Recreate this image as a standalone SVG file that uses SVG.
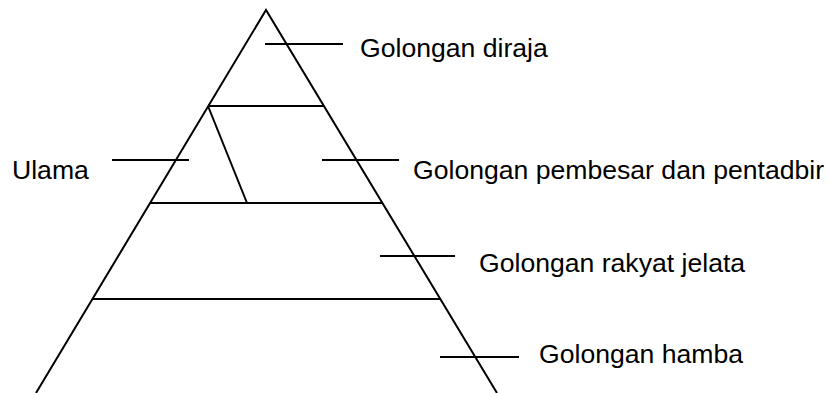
<svg xmlns="http://www.w3.org/2000/svg" width="830" height="393" viewBox="0 0 830 393">
<style>
.l{stroke:#000;stroke-width:2;fill:none;stroke-linecap:butt}
.t{font-family:"Liberation Sans",Arial,sans-serif;font-size:26.6px;fill:#000}
</style>
<rect width="830" height="393" fill="#fff"/>
<g id="pyramid">
<polyline class="l" points="36,393 266,10 497,393"/>
<line class="l" x1="208" y1="106" x2="324" y2="106"/>
<line class="l" x1="150" y1="203" x2="382" y2="203"/>
<line class="l" x1="92" y1="299" x2="441" y2="299"/>
<line class="l" x1="208" y1="106" x2="247" y2="203"/>
</g>
<g id="connectors">
<line class="l" x1="265" y1="44" x2="343" y2="44"/>
<line class="l" x1="112" y1="160" x2="189" y2="160"/>
<line class="l" x1="322" y1="160" x2="399" y2="160"/>
<line class="l" x1="380" y1="256" x2="455" y2="256"/>
<line class="l" x1="440" y1="357" x2="519" y2="357"/>
</g>
<g id="diraja"><text class="t" x="360" y="57">Golongan diraja</text></g>
<g id="ulama"><text class="t" x="12" y="179">Ulama</text></g>
<g id="pembesar"><text class="t" x="413" y="179">Golongan pembesar dan pentadbir</text></g>
<g id="rakyat"><text class="t" x="479" y="272">Golongan rakyat jelata</text></g>
<g id="hamba"><text class="t" x="539" y="363">Golongan hamba</text></g>
</svg>
